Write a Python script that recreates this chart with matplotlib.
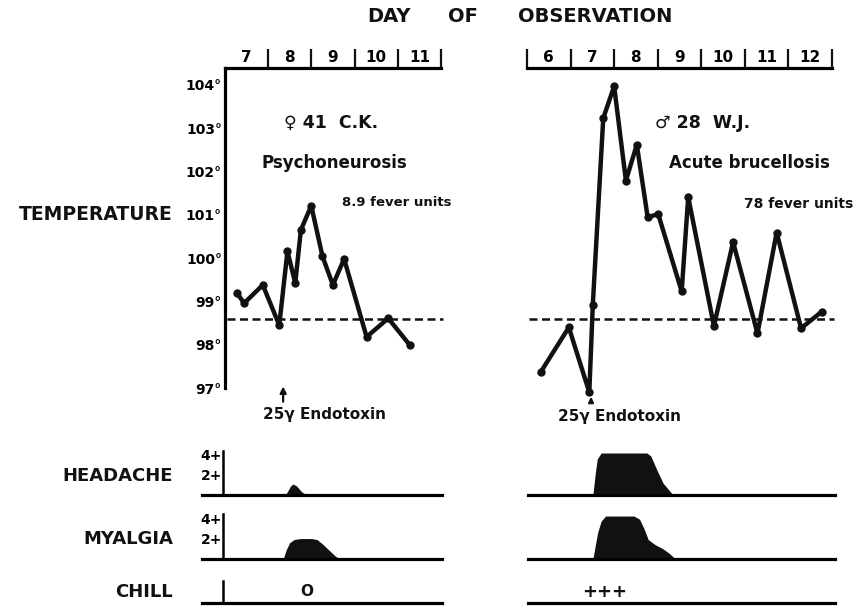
import matplotlib
matplotlib.use('Agg')
import matplotlib.pyplot as plt
import numpy as np

W, H = 863, 609

# temperature readings (day of observation, deg F)
ck_days = [7.28, 7.45, 7.88, 8.26, 8.45, 8.63, 8.76, 9.00, 9.26, 9.50, 9.76, 10.28, 10.78, 11.28]
ck_temp = [99.19, 98.96, 99.38, 98.45, 100.16, 99.42, 100.65, 101.21, 100.04, 99.38, 99.98, 98.18, 98.61, 97.99]
wj_days = [6.31, 6.96, 7.43, 7.51, 7.75, 8.00, 8.27, 8.52, 8.77, 9.01, 9.55, 9.70, 10.29, 10.73,
           11.29, 11.73, 12.29, 12.76]
wj_temp = [97.36, 98.40, 96.90, 98.92, 103.23, 103.97, 101.79, 102.62, 100.94, 101.02, 99.23, 101.41,
           98.43, 100.37, 98.26, 100.59, 98.38, 98.76]

# symptom grades (0 - 4+)
ck_head_days = [8.40, 8.47, 8.52, 8.58, 8.66, 8.78, 8.90]
ck_head = [0, 0.5, 0.9, 1.1, 0.9, 0.3, 0]
ck_myal_days = [8.35, 8.42, 8.50, 8.60, 8.75, 9.00, 9.13, 9.25, 9.40, 9.55, 9.66]
ck_myal = [0, 0.9, 1.6, 1.9, 2.0, 2.0, 1.9, 1.5, 0.9, 0.3, 0]
wj_head_days = [7.51, 7.56, 7.61, 7.70, 8.75, 8.84, 8.98, 9.12, 9.35]
wj_head = [0, 2.0, 3.6, 4.2, 4.2, 3.9, 2.5, 1.2, 0]
wj_myal_days = [7.51, 7.56, 7.62, 7.70, 7.80, 8.45, 8.58, 8.68, 8.78, 8.94, 9.12, 9.28, 9.40]
wj_myal = [0, 1.2, 2.6, 3.7, 4.2, 4.2, 3.9, 3.0, 1.9, 1.4, 1.0, 0.5, 0]

ck_day_labels = ['7', '8', '9', '10', '11']
wj_day_labels = ['6', '7', '8', '9', '10', '11', '12']
temp_ticks = [97, 98, 99, 100, 101, 102, 103, 104]
normal = 98.6

plt.rcParams['font.family'] = 'DejaVu Sans'
plt.rcParams['font.weight'] = 'bold'
ink = '#111111'

fig = plt.figure(figsize=(W / 100, H / 100), dpi=100)


def place(x0, x1, y0, y1):
    # axes box given in pixels of the final picture
    return fig.add_axes([x0 / W, 1 - y1 / H, (x1 - x0) / W, (y1 - y0) / H])


def ftext(x, y, s, **kw):
    kw.setdefault('ha', 'center')
    kw.setdefault('va', 'center')
    fig.text(x / W, 1 - y / H, s, color=ink, fontweight='bold', **kw)


def temp_panel(ax, days, temp, xlim, labels, first, show_left):
    ax.set_xlim(*xlim)
    ax.set_ylim(97, 104.4)
    for s in ['bottom', 'right']:
        ax.spines[s].set_visible(False)
    ax.spines['top'].set_linewidth(2.3)
    ax.spines['left'].set_linewidth(2.3)
    ax.spines['left'].set_visible(show_left)
    ax.xaxis.set_ticks_position('top')
    ax.set_xticks(np.arange(first, xlim[1] + 0.01, 1))
    ax.set_xticklabels([])
    ax.set_xticks(np.arange(xlim[0], xlim[1] - 0.5, 1) + 0.5, minor=True)
    ax.set_xticklabels(labels, minor=True, fontsize=11, fontweight='bold')
    ax.tick_params(axis='x', which='major', direction='out', length=14, width=1.6, color=ink)
    ax.tick_params(axis='x', which='minor', length=0, pad=2)
    if show_left:
        ax.set_yticks(temp_ticks)
        ax.set_yticklabels([f'{t}°' for t in temp_ticks], fontsize=10, fontweight='bold')
        ax.tick_params(axis='y', length=0, pad=2)
    else:
        ax.set_yticks([])
    ax.plot([xlim[0] + 0.05, xlim[1] + 0.05], [normal, normal], color=ink, lw=1.8,
            dashes=(3.2, 1.8), clip_on=False)
    ax.plot(days, temp, color=ink, lw=3.2, marker='o', ms=5, clip_on=False,
            solid_joinstyle='round')
    ax.patch.set_alpha(0)


def symptom_panel(ax, xlim, ylim, axis_x=None, ticks=None):
    ax.set_xlim(*xlim)
    ax.set_ylim(*ylim)
    for s in ['top', 'right']:
        ax.spines[s].set_visible(False)
    ax.spines['bottom'].set_linewidth(2.3)
    ax.set_xticks([])
    if axis_x is None:
        ax.spines['left'].set_visible(False)
        ax.set_yticks([])
    else:
        ax.spines['left'].set_position(('data', axis_x))
        ax.spines['left'].set_linewidth(1.8)
        ax.spines['left'].set_bounds(0, ylim[1])
        if ticks:
            ax.set_yticks([2, 4])
            ax.set_yticklabels(['2+', '4+'], fontsize=10, fontweight='bold')
            ax.tick_params(axis='y', length=0, pad=1)
        else:
            ax.set_yticks([])
    ax.patch.set_alpha(0)


# temperature panels
ax_ck = place(224.75, 441.0, 67.6, 388.0)
temp_panel(ax_ck, ck_days, ck_temp, (7, 12), ck_day_labels, 8, True)
ax_ck.annotate('', xy=(8.35, 97.1), xytext=(8.35, 96.62), annotation_clip=False,
               arrowprops=dict(arrowstyle='-|>', color=ink, lw=1.6, mutation_scale=9))

ax_wj = place(527.0, 832.0, 67.6, 388.0)
temp_panel(ax_wj, wj_days, wj_temp, (6, 13), wj_day_labels, 6, False)
ax_wj.annotate('', xy=(7.47, 96.86), xytext=(7.47, 96.62), annotation_clip=False,
               arrowprops=dict(arrowstyle='-|>', color=ink, lw=1.6, mutation_scale=7))

# symptom panels
ck_x = (6.474, 12.02)
wj_x = (6.02, 13.07)

ax = place(202, 442, 451, 495)
symptom_panel(ax, ck_x, (0, 4.4), 6.97, True)
ax.fill_between(ck_head_days, ck_head, color=ink, lw=0)
ax = place(528, 835, 451, 495)
symptom_panel(ax, wj_x, (0, 4.4))
ax.fill_between(wj_head_days, wj_head, color=ink, lw=0)

ax = place(202, 442, 514, 559)
symptom_panel(ax, ck_x, (0, 4.4), 6.97, True)
ax.fill_between(ck_myal_days, ck_myal, color=ink, lw=0)
ax = place(528, 835, 514, 559)
symptom_panel(ax, wj_x, (0, 4.4))
ax.fill_between(wj_myal_days, wj_myal, color=ink, lw=0)

ax = place(202, 442, 581, 603)
symptom_panel(ax, ck_x, (0, 2.2), 6.97, False)
ax.text(8.9, 1.1, 'O', ha='center', va='center', fontsize=11, fontweight='bold', color=ink)
ax = place(528, 835, 581, 603)
symptom_panel(ax, wj_x, (0, 2.2))
ax.text(7.79, 1.1, '+++', ha='center', va='center', fontsize=13, fontweight='bold', color=ink)

# titles and labels
ftext(389, 17, 'DAY', fontsize=14)
ftext(463, 17, 'OF', fontsize=14)
ftext(595, 17, 'OBSERVATION', fontsize=14)
ftext(173, 215, 'TEMPERATURE', fontsize=13.5, ha='right')
ftext(173, 476, 'HEADACHE', fontsize=13, ha='right')
ftext(173, 539, 'MYALGIA', fontsize=13, ha='right')
ftext(173, 592, 'CHILL', fontsize=13, ha='right')

ftext(331, 123, '♀ 41  C.K.', fontsize=12.5)
ftext(334, 163, 'Psychoneurosis', fontsize=12)
ftext(397, 202, '8.9 fever units', fontsize=9.5)
ftext(324, 415, '25γ Endotoxin', fontsize=11)

ftext(703, 123, '♂ 28  W.J.', fontsize=12.5)
ftext(749, 163, 'Acute brucellosis', fontsize=12)
ftext(799, 204, '78 fever units', fontsize=10)
ftext(620, 417, '25γ Endotoxin', fontsize=11)

fig.savefig('out.png', dpi=100)
